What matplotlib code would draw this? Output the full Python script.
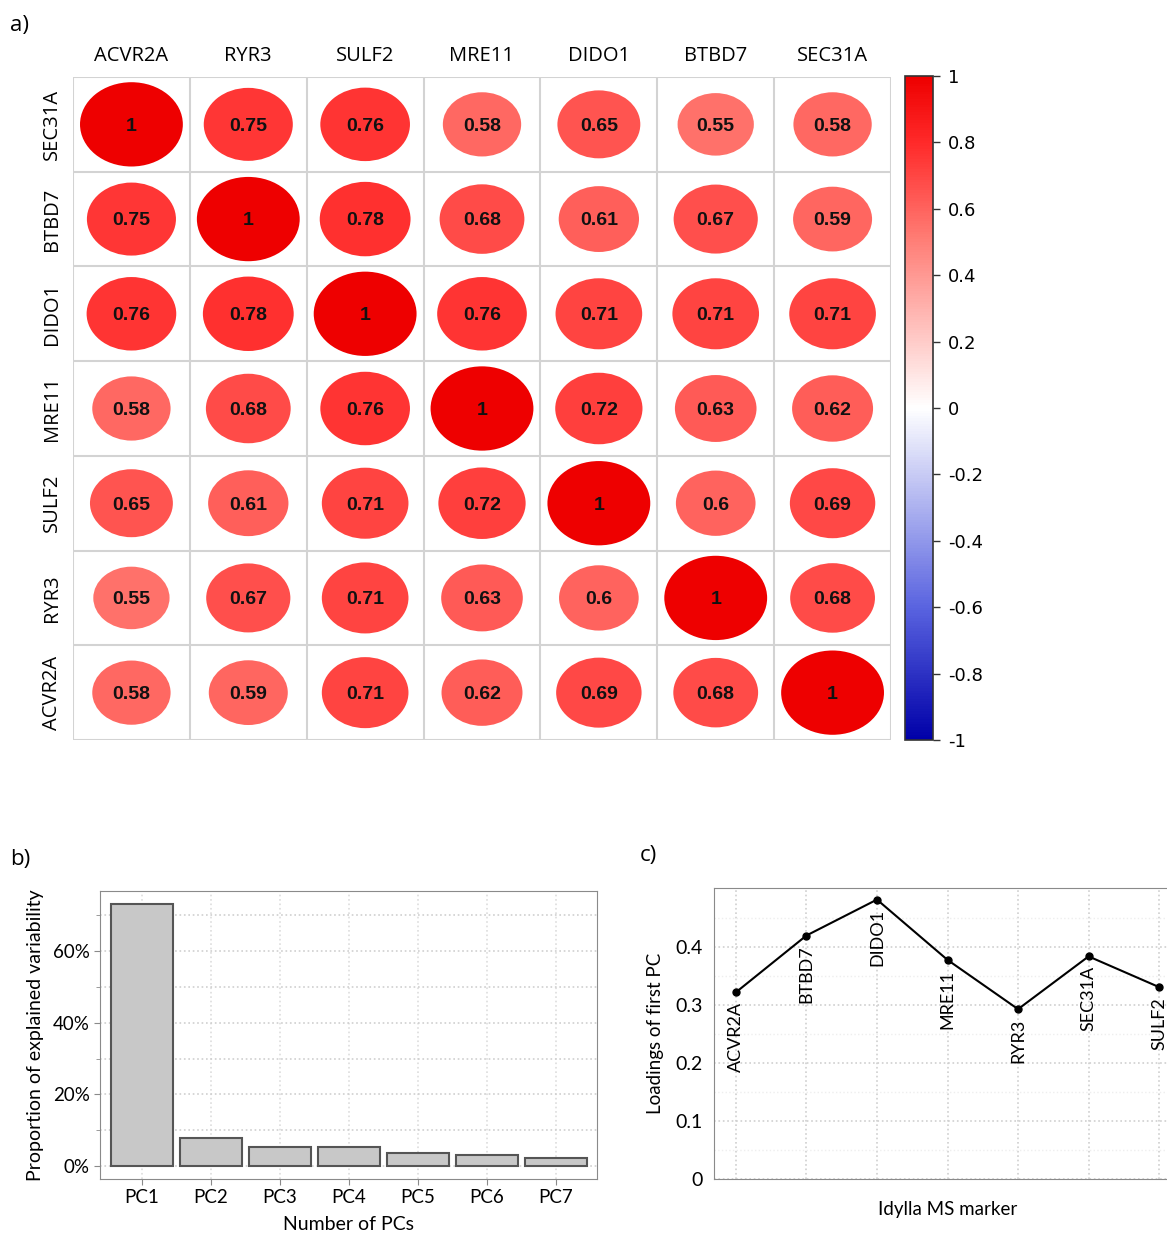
import matplotlib
matplotlib.use("Agg")
import matplotlib.pyplot as plt
import numpy as np
from matplotlib.patches import Ellipse
from matplotlib.colors import LinearSegmentedColormap, Normalize
from matplotlib.cm import ScalarMappable
from matplotlib.ticker import MultipleLocator, FuncFormatter

# --- data ---
col_labels = ["ACVR2A", "RYR3", "SULF2", "MRE11", "DIDO1", "BTBD7", "SEC31A"]
row_labels = ["SEC31A", "BTBD7", "DIDO1", "MRE11", "SULF2", "RYR3", "ACVR2A"]
corr = [
    [1, 0.75, 0.76, 0.58, 0.65, 0.55, 0.58],
    [0.75, 1, 0.78, 0.68, 0.61, 0.67, 0.59],
    [0.76, 0.78, 1, 0.76, 0.71, 0.71, 0.71],
    [0.58, 0.68, 0.76, 1, 0.72, 0.63, 0.62],
    [0.65, 0.61, 0.71, 0.72, 1, 0.6, 0.69],
    [0.55, 0.67, 0.71, 0.63, 0.6, 1, 0.68],
    [0.58, 0.59, 0.71, 0.62, 0.69, 0.68, 1],
]

pcs = ["PC1", "PC2", "PC3", "PC4", "PC5", "PC6", "PC7"]
explained = [73.2, 7.8, 5.4, 5.2, 3.6, 3.0, 2.3]

markers = ["ACVR2A", "BTBD7", "DIDO1", "MRE11", "RYR3", "SEC31A", "SULF2"]
loadings = [0.322, 0.420, 0.482, 0.378, 0.293, 0.384, 0.331]

W, H = 1167, 1234
fig = plt.figure(figsize=(W / 100, H / 100), dpi=100)

cmap = LinearSegmentedColormap.from_list(
    "corr", [(0.0, "#0000A8"), (0.2, "#5A64E0"), (0.5, "#FFFFFF"),
             (0.75, "#FF8078"), (0.9, "#FF2A2A"), (1.0, "#EE0000")])
norm = Normalize(-1, 1)


def fx(px):
    return px / W


def fy(py):
    return 1 - py / H


def num(v, p=None):
    v = round(v, 2) + 0.0
    return "{:g}".format(abs(v) if v == 0 else v)


# ---------------- a) correlation plot ----------------
ax = fig.add_axes([fx(73), fy(740), fx(891) - fx(73), (740 - 77) / H])
n = len(col_labels)
ax.set_xlim(0, n)
ax.set_ylim(n, 0)
for i in range(n):
    for j in range(n):
        v = corr[i][j]
        s = np.sqrt(abs(v))
        ax.add_patch(Ellipse((j + 0.5, i + 0.5), 0.88 * s, 0.89 * s,
                             facecolor=cmap(norm(v)), edgecolor="none"))
        ax.text(j + 0.5, i + 0.52, num(v), ha="center", va="center",
                fontsize=14, fontweight="bold", family="Liberation Sans",
                color="#111111")
for k in range(n + 1):
    ax.axhline(k, color="#D3D3D3", lw=1.5)
    ax.axvline(k, color="#D3D3D3", lw=1.5)
for sp in ax.spines.values():
    sp.set_visible(False)
ax.xaxis.tick_top()
ax.set_xticks(np.arange(n) + 0.5)
ax.set_xticklabels(col_labels, fontsize=14.5, family="Open Sans")
ax.set_yticks(np.arange(n) + 0.5)
ax.set_yticklabels(row_labels, fontsize=14.5, family="Open Sans", rotation=90,
                   va="center")
ax.tick_params(length=0, pad=8)

cax = fig.add_axes([fx(905), fy(740), 28 / W, (740 - 76) / H])
cb = fig.colorbar(ScalarMappable(norm=norm, cmap=cmap), cax=cax)
cb.set_ticks(np.round(np.arange(-1, 1.01, 0.2), 1))
cb.ax.yaxis.set_major_formatter(FuncFormatter(num))
cb.ax.tick_params(labelsize=13, length=5, width=1, color="#333333", pad=6)
cb.outline.set_edgecolor("#333333")
cb.outline.set_linewidth(1.2)

fig.text(fx(10), fy(25), "a)", fontsize=16, family="Open Sans", va="center")

# ---------------- b) explained variability ----------------
axb = fig.add_axes([fx(100), fy(1179), (597 - 100) / W, (1179 - 891) / H])
xb = np.arange(len(pcs))
axb.bar(xb, explained, width=0.9, color="#C8C8C8", edgecolor="#555555",
        linewidth=1.5, zorder=3)
axb.set_xlim(-0.61, 6.6)
axb.set_ylim(-3.6, 76.8)
axb.set_xticks(xb)
axb.set_xticklabels(pcs)
axb.yaxis.set_major_locator(MultipleLocator(20))
axb.yaxis.set_minor_locator(MultipleLocator(10))
axb.yaxis.set_major_formatter(FuncFormatter(lambda v, p: "{:.0f}%".format(v)))
axb.grid(True, which="both", axis="y", ls=":", color="#CFCFCF", lw=1.2)
axb.grid(True, which="major", axis="x", ls=":", color="#DDDDDD", lw=1.2)
axb.set_axisbelow(True)
for sp in axb.spines.values():
    sp.set_color("#8A8A8A")
axb.tick_params(labelsize=13.5, color="#8A8A8A", length=4)
axb.tick_params(which="minor", color="#8A8A8A", length=3)
for lab in axb.get_xticklabels() + axb.get_yticklabels():
    lab.set_family("Lato")
axb.set_ylabel("Proportion of explained variability", fontsize=14,
               family="Lato", labelpad=6)
axb.set_xlabel("Number of PCs", fontsize=14, family="Lato", labelpad=7)
fig.text(fx(10), fy(860), "b)", fontsize=16, family="Open Sans", va="center")

# ---------------- c) loadings ----------------
axc = fig.add_axes([fx(714), fy(1179), (1181 - 714) / W, (1179 - 888) / H])
xc = np.arange(len(markers))
axc.plot(xc, loadings, color="black", lw=1.5, marker="o", markersize=5, zorder=3)
for x, y, name in zip(xc, loadings, markers):
    axc.annotate(name, (x, y), xytext=(0, -7), textcoords="offset points",
                 rotation=90, ha="center", va="top", fontsize=13, family="Lato")
axc.set_xlim(-0.31, 6.31)
axc.set_ylim(0, 0.502)
axc.set_xticks(xc)
axc.set_xticklabels([])
axc.tick_params(axis="x", length=0)
axc.set_yticks([0, 0.1, 0.2, 0.3, 0.4])
axc.set_yticks([0.05, 0.15, 0.25, 0.35, 0.45], minor=True)
axc.yaxis.set_major_formatter(FuncFormatter(num))
axc.grid(True, which="major", axis="both", ls=":", color="#CFCFCF", lw=1.2)
axc.grid(True, which="minor", axis="y", ls=":", color="#EEEEEE", lw=1.0)
for sp in axc.spines.values():
    sp.set_color("#8A8A8A")
axc.tick_params(axis="y", which="both", labelsize=14, length=0, pad=8)
for lab in axc.get_yticklabels():
    lab.set_family("Lato")
axc.set_ylabel("Loadings of first PC", fontsize=13.5, family="Lato", labelpad=8)
axc.set_xlabel("Idylla MS marker", fontsize=13.5, family="Lato", labelpad=12)
fig.text(fx(640), fy(855), "c)", fontsize=16, family="Open Sans", va="center")

fig.savefig("out.png", dpi=100)
